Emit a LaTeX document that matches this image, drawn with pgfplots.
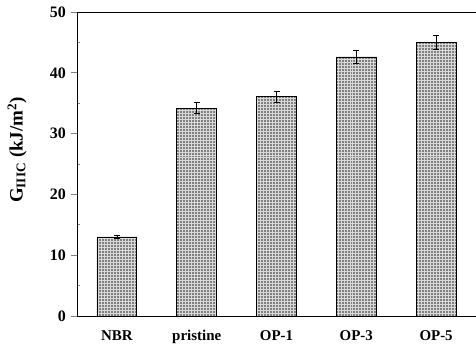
\documentclass[border=0pt]{standalone}
\usepackage{pgfplots}
\pgfplotsset{compat=1.18}
\usetikzlibrary{patterns}
\usepackage{fontspec}
\setmainfont{Liberation Serif}
\begin{document}
\begin{tikzpicture}[x=1bp,y=1bp]
\begin{axis}[
  at={(0,0)}, anchor=south west,
  scale only axis,
  width=399bp, height=304bp,
  xmin=-0.5, xmax=4.5,
  ymin=0, ymax=50,
  axis x line*=bottom,
  axis y line*=left,
  xtick={0,1,2,3,4},
  xticklabels={NBR,pristine,OP-1,OP-3,OP-5},
  x tick label style={font=\fontsize{15}{15}\selectfont\bfseries, anchor=base, yshift=-21bp},
  major x tick style={draw=none},
  ytick={0,10,20,30,40,50},
  minor y tick num=1,
  y tick label style={font=\fontsize{16}{16}\selectfont\bfseries, anchor=east, inner sep=0pt, xshift=-8bp},
  /pgf/number format/assume math mode=true,
  tick align=center,
  major tick length=6bp,
  minor tick length=3bp,
  major y tick style={xshift=-3bp, line width=1pt},
  minor y tick style={xshift=1.5bp, line width=0.8pt},
  axis line style={line width=1pt},
  ylabel={G\textsubscript{IIIC} (kJ/m\textsuperscript{2})},
  ylabel style={font=\fontsize{19}{19}\selectfont\bfseries, at={(axis description cs:-0.15,0.546)}, anchor=center},
  clip=false,
]
\draw[line width=1pt] (axis cs:-0.5,50) -- (axis cs:4.5,50);
\addplot[ybar, bar width=0.5, fill=black!50, draw=black, line width=0.9pt,
  postaction={pattern=grid, pattern color=white!85!black},
  error bars/.cd, y dir=both, y explicit,
  error bar style={line width=0.8pt}, error mark options={rotate=90,mark size=3bp,line width=0.6pt}]
coordinates {
  (0,13.0) +- (0,0.3)
  (1,34.2) +- (0,0.9)
  (2,36.1) +- (0,0.9)
  (3,42.6) +- (0,1.1)
  (4,45.0) +- (0,1.2)
};
\end{axis}
\pgfresetboundingbox
\useasboundingbox (-77,-27) rectangle (399,316);
\end{tikzpicture}
\end{document}
